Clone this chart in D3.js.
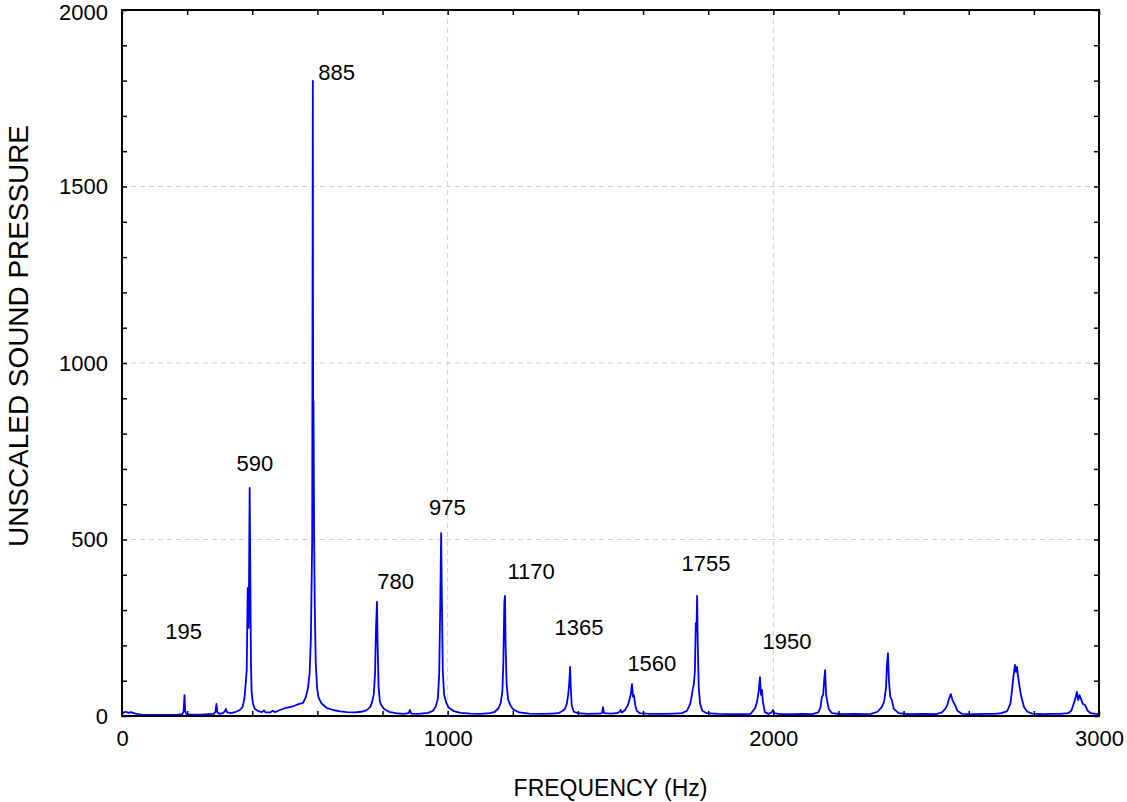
<!DOCTYPE html>
<html>
<head>
<meta charset="utf-8">
<script src="https://cdn.jsdelivr.net/npm/d3@7"></script>
<style>
  html, body { margin: 0; padding: 0; background: #fff; }
  svg { display: block; font-family: "Liberation Sans", Arial, sans-serif; }
</style>
</head>
<body>
<svg id="chart" width="1127" height="802"></svg>
<script>
// ---- Data ----
const xTickValues = [0, 1000, 2000, 3000];
const yTickValues = [0, 500, 1000, 1500, 2000];
const xMinorTicks = d3.range(0, 3001, 200);
const yMinorTicks = d3.range(0, 2001, 100);
const xGridValues = [1000, 2000];
const yGridValues = [500, 1000, 1500];

// peak annotations: [label, frequency position, value position]
const peakLabels = [
  ["195", 189, 218],
  ["590", 408, 694],
  ["885", 659, 1802],
  ["780", 840, 360],
  ["975", 999, 569],
  ["1170", 1256, 388],
  ["1365", 1403, 229],
  ["1560", 1627, 127],
  ["1755", 1793, 411],
  ["1950", 2042, 190]
];

// spectrum: [frequency Hz, unscaled sound pressure]
const spectrum = [
  [0,6],[5,10],[12,12],[20,9],[28,11],[36,8],[45,6],[60,4],[80,3],[110,3],[140,3],[170,4],
  [185,5],[189,12],[192,59],[194,14],[198,5],[215,4],[240,4],[265,5],[282,6],[287,12],[290,34],
  [293,10],[300,6],[310,8],[316,14],[319,20],[323,10],[335,8],[350,12],[362,17],[370,25],
  [376,50],[379,82],[383,130],[386,363],[389,250],[392,646],[394,400],[396,150],[398,70],
  [402,35],[408,20],[418,14],[430,11],[436,16],[441,10],[455,10],[463,15],[470,11],[485,17],
  [500,22],[515,25],[530,29],[540,33],[556,37],[565,55],[571,79],[576,120],[580,220],[584,500],
  [586,1799],[587,703],[588,892],[590,500],[592,308],[595,150],[599,80],[603,54],[611,38],
  [618,31],[630,22],[648,17],[670,13],[690,11],[715,10],[735,12],
  [750,16],[762,25],[768,40],[773,60],[777,120],[780,250],[783,323],[785,200],[788,80],
  [792,40],[796,31],[805,20],[820,12],[840,8],[865,6],[880,8],[884,17],[888,7],[910,6],
  [940,9],[955,15],[964,28],[970,50],[974,120],[977,300],[980,518],[982,350],[985,130],
  [989,60],[996,37],[1003,24],[1018,14],[1040,9],[1070,7],[1100,6],
  [1130,8],[1145,12],[1156,22],[1163,37],[1168,70],[1171,150],[1174,323],[1176,340],
  [1178,200],[1181,90],[1186,45],[1193,30],[1202,18],[1220,10],[1250,7],[1290,6],[1320,7],
  [1340,8],[1352,14],[1360,20],[1366,35],[1370,60],[1373,88],[1376,139],[1378,80],[1381,30],
  [1387,12],[1400,8],[1430,6],[1455,7],
  [1470,7],[1474,9],[1477,25],[1480,8],[1500,7],[1520,8],[1528,12],[1531,17],[1535,10],
  [1544,16],[1553,30],[1558,45],[1562,60],[1566,90],[1569,55],[1572,59],[1576,30],[1581,14],
  [1590,8],[1620,6],[1660,6],[1695,7],
  [1720,8],[1735,15],[1745,35],[1750,60],[1753,79],[1756,90],[1759,125],[1762,263],
  [1764,240],[1766,340],[1768,200],[1771,80],[1775,35],[1782,15],[1795,8],[1830,6],[1880,5],
  [1910,5],[1930,6],[1944,22],[1950,40],[1955,70],[1959,110],[1962,60],[1965,74],[1968,40],
  [1974,11],[1985,6],[1995,10],[1999,17],[2003,8],[2020,5],[2060,5],[2090,6],
  [2120,5],[2138,10],[2145,25],[2149,54],[2153,60],[2156,100],[2159,130],[2162,60],[2165,45],
  [2170,20],[2180,8],[2210,5],[2250,6],[2280,5],
  [2300,6],[2320,12],[2333,25],[2340,40],[2346,80],[2349,145],[2352,178],[2355,100],
  [2359,55],[2364,45],[2370,20],[2385,8],[2420,5],[2460,6],
  [2500,5],[2518,10],[2528,20],[2534,31],[2540,50],[2545,62],[2550,45],[2558,31],[2565,15],
  [2580,6],[2620,5],[2650,6],
  [2680,6],[2700,8],[2718,14],[2728,35],[2733,74],[2737,110],[2742,145],[2745,125],[2748,139],
  [2751,116],[2755,90],[2760,60],[2764,45],[2770,25],[2780,12],[2795,7],[2830,5],[2855,6],
  [2880,6],[2905,8],[2915,15],[2921,31],[2926,45],[2932,68],[2936,45],[2940,59],[2944,50],
  [2950,35],[2957,31],[2965,15],[2975,8],[2990,6],[3000,5]
];

// ---- Layout ----
const W = 1127, H = 802;
const margin = { left: 122, top: 10, right: 28, bottom: 86 };
const pw = W - margin.left - margin.right;
const ph = H - margin.top - margin.bottom;

const svg = d3.select("#chart");
const g = svg.append("g").attr("transform", `translate(${margin.left},${margin.top})`);

const x = d3.scaleLinear().domain([0, 3000]).range([0, pw]);
const y = d3.scaleLinear().domain([0, 2000]).range([ph, 0]);

// grid
g.append("g").selectAll("line").data(xGridValues).join("line")
  .attr("x1", d => x(d)).attr("x2", d => x(d)).attr("y1", 0).attr("y2", ph)
  .attr("stroke", "#cfcfcf").attr("stroke-width", 1).attr("stroke-dasharray", "5,4");
g.append("g").selectAll("line").data(yGridValues).join("line")
  .attr("y1", d => y(d)).attr("y2", d => y(d)).attr("x1", 0).attr("x2", pw)
  .attr("stroke", "#cfcfcf").attr("stroke-width", 1).attr("stroke-dasharray", "5,4");

// clip
svg.append("defs").append("clipPath").attr("id", "clip")
  .append("rect").attr("x", 0).attr("y", 0).attr("width", pw).attr("height", ph);

// spectrum line
const line = d3.line().x(d => x(d[0])).y(d => y(d[1]));
g.append("path").datum(spectrum)
  .attr("clip-path", "url(#clip)")
  .attr("d", line)
  .attr("fill", "none")
  .attr("stroke", "#0000ff")
  .attr("stroke-width", 1.8)
  .attr("stroke-linejoin", "round");

// minor ticks (inward) on all sides
const tickLen = 5;
const axB = d3.axisBottom(x).tickValues(xMinorTicks).tickSize(-tickLen).tickFormat("");
const axT = d3.axisTop(x).tickValues(xMinorTicks).tickSize(-tickLen).tickFormat("");
const axL = d3.axisLeft(y).tickValues(yMinorTicks).tickSize(-tickLen).tickFormat("");
const axR = d3.axisRight(y).tickValues(yMinorTicks).tickSize(-tickLen).tickFormat("");
[[axB, `translate(0,${ph})`], [axT, "translate(0,0)"], [axL, "translate(0,0)"], [axR, `translate(${pw},0)`]]
  .forEach(([ax, tr]) => {
    const a = g.append("g").attr("transform", tr).call(ax);
    a.select(".domain").remove();
    a.selectAll("line").attr("stroke", "#000").attr("stroke-width", 1.5);
  });

// tick labels
const fmt = d3.format("d");
const axLabX = d3.axisBottom(x).tickValues(xTickValues).tickSize(0).tickPadding(14).tickFormat(fmt);
const gx = g.append("g").attr("transform", `translate(0,${ph})`).call(axLabX);
gx.select(".domain").remove();
gx.selectAll("text").attr("font-size", 22).attr("font-family", "Liberation Sans, Arial, sans-serif").attr("fill", "#000");

const axLabY = d3.axisLeft(y).tickValues(yTickValues).tickSize(0).tickPadding(14).tickFormat(fmt);
const gy = g.append("g").call(axLabY);
gy.select(".domain").remove();
gy.selectAll("text").attr("font-size", 22).attr("font-family", "Liberation Sans, Arial, sans-serif").attr("fill", "#000");
// keep the top label fully inside the page
gy.selectAll(".tick").filter(d => d === 2000).select("text").attr("dy", "0.42em");

// frame
g.append("rect").attr("x", 0).attr("y", 0).attr("width", pw).attr("height", ph)
  .attr("fill", "none").attr("stroke", "#000").attr("stroke-width", 2);

// peak labels
g.append("g").selectAll("text").data(peakLabels).join("text")
  .attr("x", d => x(d[1])).attr("y", d => y(d[2]))
  .attr("text-anchor", "middle")
  .attr("font-size", 22)
  .attr("fill", "#000")
  .text(d => d[0]);

// axis titles
svg.append("text")
  .attr("x", margin.left + x(1500)).attr("y", 796)
  .attr("text-anchor", "middle").attr("font-size", 23).attr("fill", "#000")
  .text("FREQUENCY (Hz)");

svg.append("text")
  .attr("transform", "translate(28,336) rotate(-90)")
  .attr("text-anchor", "middle")
  .attr("font-size", 27)
  .attr("textLength", 422).attr("lengthAdjust", "spacingAndGlyphs")
  .attr("fill", "#000")
  .text("UNSCALED SOUND PRESSURE");
</script>
</body>
</html>
